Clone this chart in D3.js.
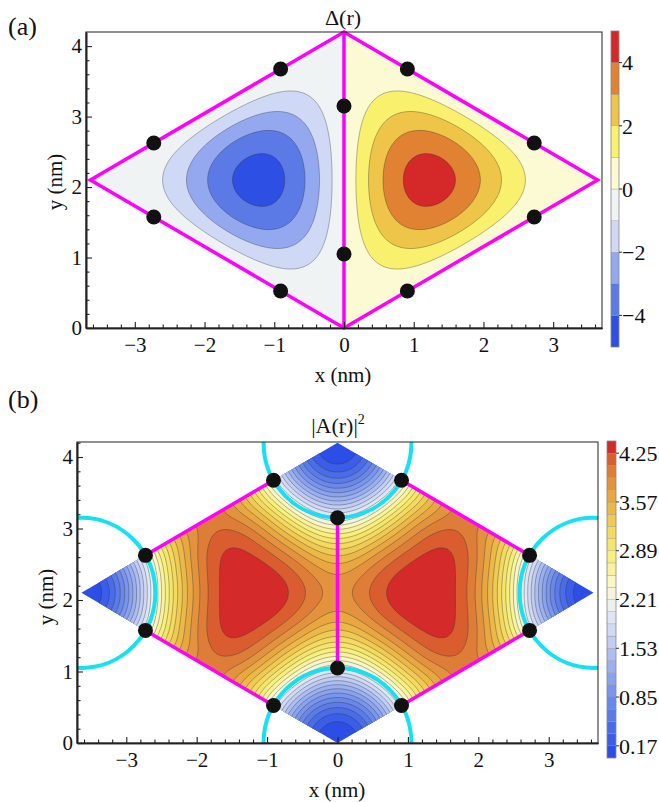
<!DOCTYPE html>
<html>
<head>
<meta charset="utf-8">
<script src="https://cdn.jsdelivr.net/npm/d3@7"></script>
<style>
body { margin: 0; background: #fff; }
svg { display: block; }
text { font-family: "Liberation Serif", "Times New Roman", serif; fill: #111; }
</style>
</head>
<body>
<svg width="659" height="802" font-family="Liberation Serif, serif"></svg>
<script>
// sample geometry (nm): rhombus made of two equilateral triangles
var rhombus = [[0, 0], [3.637, 2.1], [0, 4.2], [-3.637, 2.1]];
var sites = [[-2.728, 2.625], [-0.909, 3.675], [0.909, 3.675], [2.728, 2.625],
             [2.728, 1.575], [0.909, 0.525], [-0.909, 0.525], [-2.728, 1.575],
             [0, 3.15], [0, 1.05]];
var coreRadius = 1.05;

// panel (a): Delta(r)
var deltaLevels = [-5, -4, -3, -2, -1, 0, 1, 2, 3, 4, 5];
var deltaTicks = [-4, -2, 0, 2, 4];
var deltaPeak = 4.45;
var deltaColors = ["#2e4fe3", "#5b7ae6", "#93a8ef", "#cfd9f6", "#f0f3f4",
                   "#fcfad2", "#f9f06e", "#efc549", "#e08232", "#d42829"];

// panel (b): |A(r)|^2
var ampLevels = [0, 0.17, 0.34, 0.51, 0.68, 0.85, 1.02, 1.19, 1.36, 1.53, 1.70, 1.87, 2.04,
                 2.21, 2.38, 2.55, 2.72, 2.89, 3.06, 3.23, 3.40, 3.57, 3.74, 3.91, 4.08, 4.25, 4.42];
var ampTicks = [0.17, 0.85, 1.53, 2.21, 2.89, 3.57, 4.25];
var ampMax = 4.6;           // plateau value far from the corners
var ampCore = 1.25;         // healing length round the corners
var ampPower = 2.2;
var ampDip = [0.085, 0.05]; // weak dip on the divider / on the outer edges
var ampDipWidth = [0.55, 0.35];
var ampStops = [0.08, 0.6, 1.2, 1.7, 2.12, 2.4, 2.8, 3.2, 3.6, 3.95, 4.15, 4.33];
var ampStopColors = ["#2c4ee6", "#5a7be8", "#93aaf0", "#c9d4f5", "#eef0f1", "#fbf8d0",
                     "#f8f07c", "#f3d75a", "#e9ad42", "#e0853a", "#d9622f", "#d42a2a"];

var xMajor = [-3, -2, -1, 0, 1, 2, 3];
var yMajor = [0, 1, 2, 3, 4];

var svg = d3.select("svg");
var S3 = Math.sqrt(3) / 2;
var serif = "Liberation Serif, Times New Roman, serif";

// distances to the three sides of the right-hand triangle
function sides(x, y) {
  var top = rhombus[2][1];
  return [x, -0.5 * x - S3 * y + S3 * top, -0.5 * x + S3 * y];
}

function deltaField(x, y) {
  var h = rhombus[1][0];
  var d = sides(Math.abs(x), y);
  var f = Math.sin(Math.PI * d[0] / h) * Math.sin(Math.PI * d[1] / h) * Math.sin(Math.PI * d[2] / h);
  var f0 = Math.pow(Math.sin(Math.PI / 3), 3);
  return (x < 0 ? -1 : 1) * deltaPeak * f / f0;
}

function ampField(x, y) {
  var v = ampMax;
  rhombus.forEach(function(c) {
    var r = Math.hypot(x - c[0], y - c[1]);
    v *= 1 - Math.exp(-Math.pow(r / ampCore, ampPower));
  });
  var d = sides(Math.abs(x), y);
  var dc = d[0], de = Math.min(Math.abs(d[1]), Math.abs(d[2]));
  v *= (1 - ampDip[0] * Math.exp(-dc * dc / (ampDipWidth[0] * ampDipWidth[0])))
     * (1 - ampDip[1] * Math.exp(-de * de / (ampDipWidth[1] * ampDipWidth[1])));
  return v;
}

var ampColor = d3.scaleLinear().domain(ampStops).range(ampStopColors).clamp(true);

function drawField(g, x, y, field, levels, colorOf, clipId, lineColor) {
  var s = 2, pad = 8;
  var x0 = x.range()[0] - pad, y0 = y.range()[1] - pad;
  var nx = Math.ceil((x.range()[1] - x.range()[0] + 2 * pad) / s) + 1;
  var ny = Math.ceil((y.range()[0] - y.range()[1] + 2 * pad) / s) + 1;
  var values = new Array(nx * ny);
  for (var j = 0; j < ny; j++)
    for (var i = 0; i < nx; i++)
      values[j * nx + i] = field(x.invert(x0 + i * s), y.invert(y0 + j * s));

  var contours = d3.contours().size([nx, ny]).thresholds(levels.slice(0, -1))(values);
  var path = d3.geoPath(d3.geoIdentity().scale(s).translate([x0 - s / 2, y0 - s / 2]));

  var cg = g.append("g").attr("clip-path", "url(#" + clipId + ")");
  cg.selectAll("path.band")
    .data(contours)
    .enter().append("path")
      .attr("class", "band")
      .attr("d", path)
      .attr("fill", function(d, i) { return colorOf(i); });
  cg.selectAll("path.iso")
    .data(contours.slice(1))
    .enter().append("path")
      .attr("class", "iso")
      .attr("d", path)
      .attr("fill", "none")
      .attr("stroke", lineColor)
      .attr("stroke-width", 0.6);
}

function drawAxes(g, x, y, frame) {
  var minorX = d3.range(-3.6, 3.61, 0.2).filter(function(v) { return Math.abs(v - Math.round(v)) > 0.01; });
  var minorY = d3.range(0.2, y.domain()[1], 0.2).filter(function(v) { return Math.abs(v - Math.round(v)) > 0.01; });
  var fmt = d3.format("d");

  g.append("rect")
    .attr("x", frame.left).attr("y", frame.top)
    .attr("width", frame.right - frame.left).attr("height", frame.bottom - frame.top)
    .attr("fill", "none").attr("stroke", "#222").attr("stroke-width", 1);

  var bm = g.append("g").attr("transform", "translate(0," + frame.bottom + ")")
    .call(d3.axisBottom(x).tickValues(minorX).tickSize(-3.5).tickSizeOuter(0).tickFormat(""));
  var bx = g.append("g").attr("transform", "translate(0," + frame.bottom + ")")
    .call(d3.axisBottom(x).tickValues(xMajor).tickSize(-6).tickSizeOuter(0).tickPadding(9).tickFormat(fmt));
  var lm = g.append("g").attr("transform", "translate(" + frame.left + ",0)")
    .call(d3.axisLeft(y).tickValues(minorY).tickSize(-3.5).tickSizeOuter(0).tickFormat(""));
  var ly = g.append("g").attr("transform", "translate(" + frame.left + ",0)")
    .call(d3.axisLeft(y).tickValues(yMajor).tickSize(-6).tickSizeOuter(0).tickPadding(4).tickFormat(fmt));

  [bm, bx, lm, ly].forEach(function(a) {
    a.attr("font-family", serif).attr("font-size", 21);
    a.selectAll("line").attr("stroke", "#222").attr("stroke-width", 1.1);
    a.select(".domain").attr("stroke", "#222").attr("stroke-width", 1.6);
    a.selectAll("text").attr("fill", "#111").attr("font-family", serif);
  });
}

function drawColorbar(g, bar, levels, colorOf, ticks, fmt) {
  var c = d3.scaleLinear().domain([levels[0], levels[levels.length - 1]]).range([bar.bottom, bar.top]);
  g.selectAll("rect.cb")
    .data(levels.slice(0, -1))
    .enter().append("rect")
      .attr("x", bar.x)
      .attr("y", function(d, i) { return c(levels[i + 1]); })
      .attr("width", bar.w)
      .attr("height", function(d, i) { return c(levels[i]) - c(levels[i + 1]); })
      .attr("fill", function(d, i) { return colorOf(i); })
      .attr("stroke", "#8a8a8a").attr("stroke-width", 0.3);
  g.append("rect")
    .attr("x", bar.x).attr("y", bar.top).attr("width", bar.w).attr("height", bar.bottom - bar.top)
    .attr("fill", "none").attr("stroke", "#888").attr("stroke-width", 0.6);
  g.selectAll("line.cbt")
    .data(ticks)
    .enter().append("line")
      .attr("x1", bar.x + bar.w).attr("x2", bar.x + bar.w + 3)
      .attr("y1", function(d) { return c(d); }).attr("y2", function(d) { return c(d); })
      .attr("stroke", "#333").attr("stroke-width", 1);
  g.selectAll("text.cbl")
    .data(ticks)
    .enter().append("text")
      .attr("x", bar.x + bar.w + 3)
      .attr("y", function(d) { return c(d); })
      .attr("dy", "0.35em")
      .attr("font-size", 22)
      .attr("font-family", serif)
      .text(fmt);
}

function rhombusClip(id, x, y) {
  svg.append("clipPath").attr("id", id)
    .append("polygon")
      .attr("points", rhombus.map(function(p) { return x(p[0]) + "," + y(p[1]); }).join(" "));
}

function frameClip(id, frame) {
  svg.append("clipPath").attr("id", id)
    .append("rect")
      .attr("x", frame.left).attr("y", frame.top)
      .attr("width", frame.right - frame.left).attr("height", frame.bottom - frame.top);
}

function drawSites(g, x, y) {
  g.selectAll("circle.site")
    .data(sites)
    .enter().append("circle")
      .attr("cx", function(d) { return x(d[0]); })
      .attr("cy", function(d) { return y(d[1]); })
      .attr("r", 7.5)
      .attr("fill", "#111");
}

function label(g, x, y, size, str) {
  return g.append("text").attr("x", x).attr("y", y).attr("font-size", size)
    .attr("font-family", serif).text(str);
}

// ---------- panel (a) ----------
var frameA = {left: 86, right: 602, top: 32, bottom: 328};
var xA = d3.scaleLinear().domain([-3.7, 3.7]).range([frameA.left, frameA.right]);
var yA = d3.scaleLinear().domain([0, 4.2]).range([frameA.bottom, frameA.top]);
rhombusClip("clipA", xA, yA);

var gA = svg.append("g");
drawField(gA, xA, yA, deltaField, deltaLevels, function(i) { return deltaColors[i]; }, "clipA", "rgba(40,40,40,0.55)");

gA.append("polygon")
  .attr("points", rhombus.map(function(p) { return xA(p[0]) + "," + yA(p[1]); }).join(" "))
  .attr("fill", "none").attr("stroke", "#ff00ff").attr("stroke-width", 3.5)
  .attr("stroke-linejoin", "miter");
gA.append("line")
  .attr("x1", xA(0)).attr("x2", xA(0)).attr("y1", yA(0)).attr("y2", yA(4.2))
  .attr("stroke", "#ff00ff").attr("stroke-width", 3.5);
drawSites(gA, xA, yA);
drawAxes(gA, xA, yA, frameA);
drawColorbar(gA, {x: 611, w: 8, top: 31, bottom: 347}, deltaLevels,
  function(i) { return deltaColors[i]; }, deltaTicks, d3.format("d"));

label(gA, 343, 25, 22, "\u0394(r)").attr("text-anchor", "middle");
label(gA, 343, 382, 21, "x (nm)").attr("text-anchor", "middle");
label(gA, 0, 0, 21, "y (nm)").attr("transform", "translate(55,182) rotate(-90)")
  .attr("dy", "0.35em").attr("text-anchor", "middle");
label(gA, 8, 35, 26, "(a)");

// ---------- panel (b) ----------
var frameB = {left: 77, right: 598, top: 442, bottom: 743};
var xB = d3.scaleLinear().domain([-3.7, 3.7]).range([frameB.left, frameB.right]);
var yB = d3.scaleLinear().domain([0, 4.21]).range([frameB.bottom, frameB.top]);
rhombusClip("clipB", xB, yB);
frameClip("frameB", frameB);

var ampBand = function(i) { return ampColor((ampLevels[i] + ampLevels[i + 1]) / 2); };
var gB = svg.append("g");
drawField(gB, xB, yB, ampField, ampLevels, ampBand, "clipB", "rgba(50,50,50,0.6)");

gB.append("g").attr("clip-path", "url(#frameB)")
  .selectAll("ellipse")
  .data(rhombus)
  .enter().append("ellipse")
    .attr("cx", function(d) { return xB(d[0]); })
    .attr("cy", function(d) { return yB(d[1]); })
    .attr("rx", xB(coreRadius) - xB(0))
    .attr("ry", yB(0) - yB(coreRadius))
    .attr("fill", "none")
    .attr("stroke", "#14e2f2")
    .attr("stroke-width", 4);

var bonds = [[0, 1], [2, 3], [4, 5], [6, 7], [8, 9]];
gB.selectAll("line.bond")
  .data(bonds)
  .enter().append("line")
    .attr("x1", function(d) { return xB(sites[d[0]][0]); })
    .attr("y1", function(d) { return yB(sites[d[0]][1]); })
    .attr("x2", function(d) { return xB(sites[d[1]][0]); })
    .attr("y2", function(d) { return yB(sites[d[1]][1]); })
    .attr("stroke", "#ff00ff").attr("stroke-width", 3.5);
drawSites(gB, xB, yB);
drawAxes(gB, xB, yB, frameB);
drawColorbar(gB, {x: 607, w: 9, top: 441, bottom: 758}, ampLevels, ampBand, ampTicks, d3.format(".2f"));

var tB = label(gB, 338, 433, 22, "").attr("text-anchor", "middle");
tB.append("tspan").text("|A(r)|");
tB.append("tspan").attr("dy", -9).attr("font-size", 14).text("2");
label(gB, 337, 797, 21, "x (nm)").attr("text-anchor", "middle");
label(gB, 0, 0, 21, "y (nm)").attr("transform", "translate(46,597) rotate(-90)")
  .attr("dy", "0.35em").attr("text-anchor", "middle");
label(gB, 8, 408, 26, "(b)");
</script>
</body>
</html>
